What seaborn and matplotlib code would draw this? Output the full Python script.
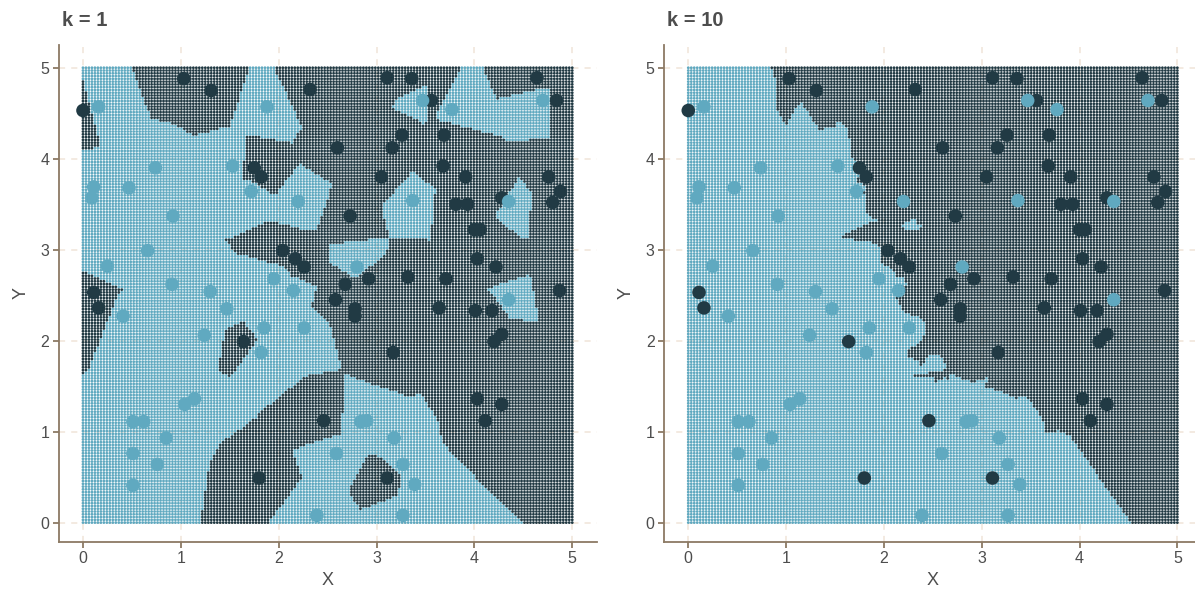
import numpy as np
import pandas as pd
import matplotlib
matplotlib.use("Agg")
import matplotlib.pyplot as plt
import seaborn as sns

# ---- training data ----
dark_x = [0.00, 1.03, 1.31, 2.32, 3.11, 3.36, 4.64, 4.84, 3.56, 2.60, 3.26, 3.16, 3.69, 3.68,
          1.75, 1.82, 3.05, 3.91, 4.76, 4.88, 4.80, 4.28, 3.81, 3.93, 2.73, 4.00, 4.06, 2.04,
          2.17, 2.26, 4.03, 4.22, 3.71, 3.32, 2.92, 2.68, 4.87, 0.11, 0.16, 2.58, 2.78, 2.78,
          3.64, 4.01, 4.18, 4.28, 4.20, 1.64, 3.17, 4.03, 4.28, 4.11, 2.46, 1.80, 3.11]
dark_y = [4.53, 4.88, 4.75, 4.76, 4.89, 4.88, 4.89, 4.64, 4.64, 4.12, 4.26, 4.12, 4.26, 3.92,
          3.90, 3.80, 3.80, 3.80, 3.80, 3.64, 3.52, 3.57, 3.50, 3.50, 3.37, 3.22, 3.22, 2.99,
          2.90, 2.81, 2.90, 2.81, 2.68, 2.70, 2.68, 2.62, 2.55, 2.53, 2.36, 2.45, 2.35, 2.27,
          2.36, 2.33, 2.33, 2.07, 1.99, 1.99, 1.87, 1.36, 1.30, 1.12, 1.12, 0.49, 0.49]
light_x = [0.16, 1.88, 3.47, 3.77, 4.70, 0.11, 0.09, 0.47, 0.74, 1.53, 0.92, 1.72, 2.20, 3.37,
           4.35, 0.66, 0.25, 2.80, 0.91, 1.30, 1.95, 2.15, 0.41, 1.47, 1.85, 2.26, 1.82, 1.24,
           4.35, 1.04, 1.14, 0.51, 0.62, 0.85, 0.51, 0.76, 0.51, 2.84, 2.90, 3.18, 2.59, 3.27,
           3.39, 2.39, 3.27]
light_y = [4.57, 4.57, 4.64, 4.54, 4.64, 3.69, 3.57, 3.68, 3.90, 3.92, 3.37, 3.64, 3.53, 3.54,
           3.53, 2.99, 2.82, 2.81, 2.62, 2.54, 2.68, 2.55, 2.27, 2.35, 2.14, 2.14, 1.87, 2.06,
           2.45, 1.30, 1.36, 1.11, 1.11, 0.93, 0.76, 0.64, 0.41, 1.11, 1.12, 0.93, 0.76, 0.64,
           0.42, 0.08, 0.08]

k_values = [1, 10]
titles = ["k = 1", "k = 10"]
tick_vals = [0, 1, 2, 3, 4, 5]

DARK = "#213a44"
LIGHT = "#60a9c0"
palette = {"dark": DARK, "light": LIGHT}

train = pd.DataFrame({
    "X": dark_x + light_x,
    "Y": dark_y + light_y,
    "cls": ["dark"] * len(dark_x) + ["light"] * len(light_x),
})

# prediction grid
g = np.linspace(0, 5, 165)
GX, GY = np.meshgrid(g, g)
grid = pd.DataFrame({"X": GX.ravel(), "Y": GY.ravel()})


def knn_predict(k):
    tx = train["X"].to_numpy()
    ty = train["Y"].to_numpy()
    lab = (train["cls"] == "dark").to_numpy().astype(int)
    d = (grid["X"].to_numpy()[:, None] - tx[None, :]) ** 2 + (grid["Y"].to_numpy()[:, None] - ty[None, :]) ** 2
    idx = np.argsort(d, axis=1)[:, :k]
    votes = lab[idx].sum(axis=1)
    res = np.where(votes * 2 > k, "dark", "light")
    tie = votes * 2 == k
    res[tie] = np.where(lab[idx[tie, 0]] == 1, "dark", "light")
    return res


sns.set_theme(style="white")
plt.rcParams["font.family"] = ["Liberation Sans", "DejaVu Sans"]

W, H = 1195, 591
fig = plt.figure(figsize=(W / 100, H / 100), dpi=100)
fig.patch.set_facecolor("white")

ax_left_px = [59, 664.3]
ax_right_px = [596.7, 1201.8]
top_px, bot_px = 45, 541.7

SPINE = "#8C7A64"
TXT = "#4D4D4D"

for i, k in enumerate(k_values):
    l, r = ax_left_px[i], ax_right_px[i]
    ax = fig.add_axes([l / W, 1 - bot_px / H, (r - l) / W, (bot_px - top_px) / H])
    ax.set_facecolor("white")
    gd = grid.copy()
    gd["cls"] = knn_predict(k)
    sns.scatterplot(data=gd, x="X", y="Y", hue="cls", palette=palette, s=4.0,
                    linewidth=0, legend=False, ax=ax, zorder=2)
    sns.scatterplot(data=train, x="X", y="Y", hue="cls", palette=palette, s=95,
                    linewidth=0, legend=False, ax=ax, zorder=3)
    ax.set_xlim(-0.245, 5.25)
    ax.set_ylim(-0.21, 5.25)
    ax.set_xticks(tick_vals)
    ax.set_yticks(tick_vals)
    ax.set_xticklabels([str(t) for t in tick_vals])
    ax.set_yticklabels([str(t) for t in tick_vals])
    ax.set_axisbelow(True)
    ax.grid(True, color="#F0E4D8", linestyle=(0, (4, 4)), linewidth=1.1)
    for s in ["top", "right"]:
        ax.spines[s].set_visible(False)
    for s in ["left", "bottom"]:
        ax.spines[s].set_visible(True)
        ax.spines[s].set_color(SPINE)
        ax.spines[s].set_linewidth(1.3)
    ax.tick_params(axis="both", which="major", direction="out", length=4, width=1.3,
                   color=SPINE, labelcolor=TXT, labelsize=11.5, pad=3,
                   bottom=True, left=True)
    ax.set_xlabel("X", fontsize=13, color=TXT, labelpad=4)
    ax.set_ylabel("Y", fontsize=13, color=TXT, labelpad=8)
    ax.set_title(titles[i], loc="left", fontsize=14.5, fontweight="bold", color=TXT,
                 x=0.005, pad=14)

fig.savefig("out.png", dpi=100, facecolor="white")
